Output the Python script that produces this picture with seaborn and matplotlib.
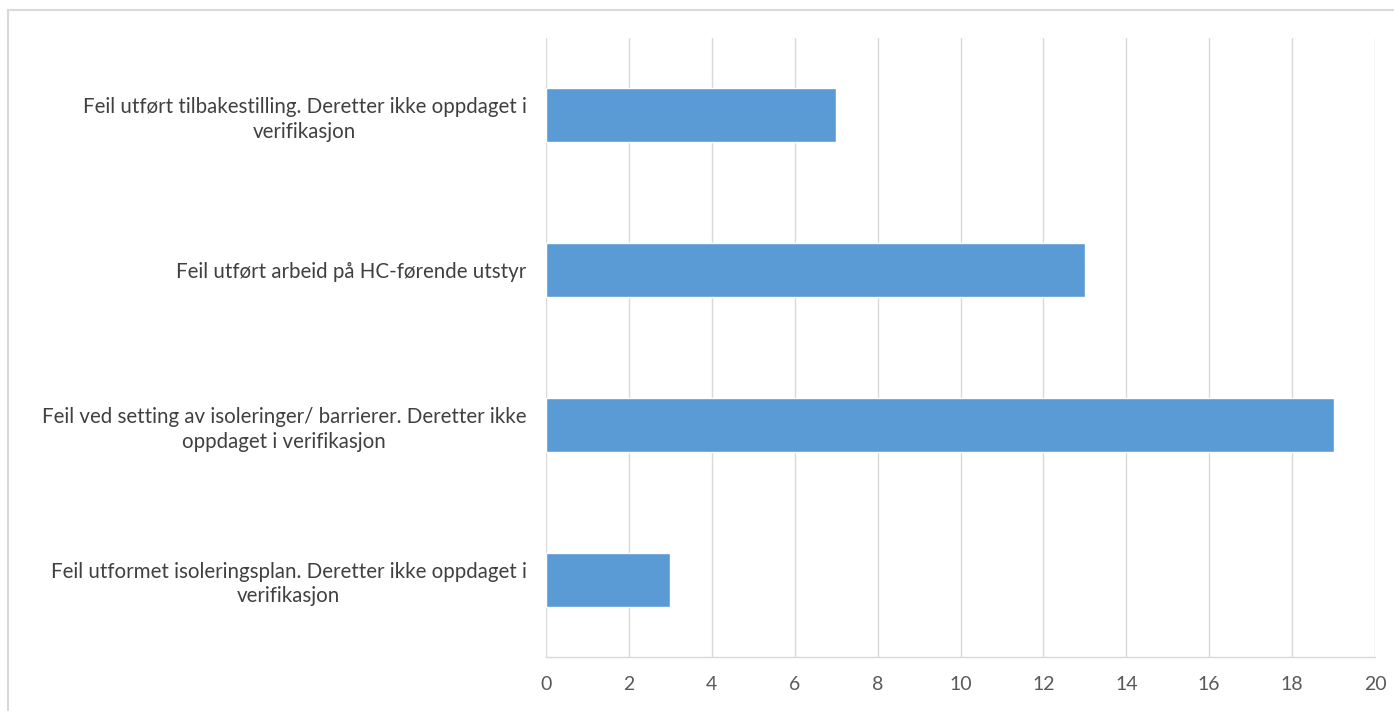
import matplotlib
matplotlib.use("Agg")
import matplotlib.pyplot as plt
import seaborn as sns
import pandas as pd
from matplotlib.patches import Rectangle

categories = [
    "Feil utført tilbakestilling. Deretter ikke oppdaget i\nverifikasjon",
    "Feil utført arbeid på HC-førende utstyr",
    "Feil ved setting av isoleringer/ barrierer. Deretter ikke\noppdaget i verifikasjon",
    "Feil utformet isoleringsplan. Deretter ikke oppdaget i\nverifikasjon",
]
values = [7, 13, 19, 3]
xticks = [0, 2, 4, 6, 8, 10, 12, 14, 16, 18, 20]

sns.set_theme(style="white")
plt.rcParams['font.family'] = ['Lato', 'DejaVu Sans']

df = pd.DataFrame({"cat": categories, "val": values})

W, H = 1394, 711
fig = plt.figure(figsize=(W / 100, H / 100), dpi=100)
fig.patch.set_facecolor("white")
ax = fig.add_axes([546 / W, 1 - 657 / H, (1375 - 546) / W, (657 - 38) / H])

sns.barplot(data=df, x="val", y="cat", orient="h", color="#5B9BD5",
            saturation=1, width=0.35, ax=ax)

ax.set_xlim(0, 20)
ax.set_xticks(xticks)
ax.set_xticklabels([str(t) for t in xticks])
ax.set_ylim(3.5, -0.5)
ax.set_xlabel("")
ax.set_ylabel("")
ax.grid(axis="x", color="#D9D9D9", linewidth=1)
ax.grid(axis="y", visible=False)
ax.set_axisbelow(True)
for s in ["top", "right", "left"]:
    ax.spines[s].set_visible(False)
ax.spines["bottom"].set_color("#D9D9D9")
ax.spines["bottom"].set_linewidth(1)
ax.tick_params(axis="x", length=0, pad=14, labelsize=14, labelcolor="#595959")
ax.tick_params(axis="y", length=0, pad=14, labelsize=14.8, labelcolor="#404040")
for lbl in ax.get_yticklabels():
    lbl.set_multialignment("center")
    lbl.set_linespacing(1.3)

fig.patches.append(Rectangle((8 / W, -0.1), 1.2, (1 - 10 / H) + 0.1,
                             transform=fig.transFigure, fill=False,
                             edgecolor="#D9D9D9", linewidth=1.5))

fig.savefig("out.png", dpi=100, facecolor="white")
